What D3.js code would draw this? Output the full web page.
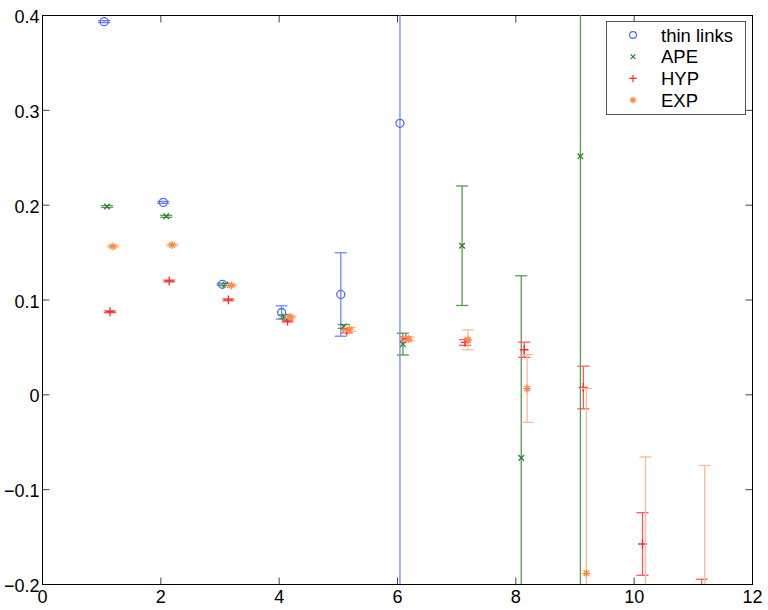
<!DOCTYPE html>
<html lang="en">
<head>
<meta charset="UTF-8">
<title>Error bars</title>
<script src="https://d3js.org/d3.v7.min.js"></script>
<style>
    body { margin: 0; background: #fff; overflow: hidden; }
</style>
</head>
<body>
<svg id="chart" width="768" height="610"></svg>
<script>
    // data
    const beta = [1, 2, 3, 4, 5, 6, 7, 8, 9, 10, 11];
    const seriesNames = ['thin links', 'APE', 'HYP', 'EXP'];
    const shifts = [0.05, 0.1, 0.15, 0.2];

    const thinVal = [0.393, 0.2024, 0.116, 0.0863, 0.1053, 0.2858];
    const thinErr = [0.001, 0.001, 0.001, 0.007, 0.044, 0.7];
    const apeVal = [0.198, 0.1877, 0.1156, 0.0818, 0.0716, 0.053, 0.1567, -0.067, 0.251];
    const apeErr = [0.001, 0.001, 0.001, 0.002, 0.002, 0.0115, 0.063, 0.192, 0.6];
    const hypVal = [0.0871, 0.1195, 0.0997, 0.0772, 0.0667, 0.0586, 0.0547, 0.047, 0.0072, -0.1578, -0.22];
    const hypErr = [0.001, 0.001, 0.001, 0.001, 0.002, 0.002, 0.003, 0.008, 0.0225, 0.033, 0.025];
    const expVal = [0.156, 0.1575, 0.1148, 0.0816, 0.0684, 0.0583, 0.0575, 0.0061, -0.1887, -0.25, -0.26];
    const expErr = [0.001, 0.001, 0.001, 0.001, 0.002, 0.002, 0.0105, 0.0357, 0.195, 0.184, 0.185];

    const xTicks = [0, 2, 4, 6, 8, 10, 12];
    const yTicks = [-0.2, -0.1, 0, 0.1, 0.2, 0.3, 0.4];

    const values = [thinVal, apeVal, hypVal, expVal];
    const errors = [thinErr, apeErr, hypErr, expErr];
    const markerColor = ['#4d6bff', '#2a7d2a', '#ff2a2a', '#ff8a4a'];
    const barColor = ['#6f88ff', '#4f9f4f', '#ff5a5a', '#ffbb96'];
    const symbols = ['circle', 'x', 'plus', 'star'];

    const font = '"Liberation Sans", Arial, sans-serif';
    const svg = d3.select('#chart').attr('font-family', font);
    const box = { left: 42, right: 752, top: 15, bottom: 584 };

    const x = d3.scaleLinear().domain([0, 12]).range([box.left, box.right]);
    const y = d3.scaleLinear().domain([-0.2, 0.4]).range([box.bottom, box.top]);

    svg.append('clipPath').attr('id', 'clip')
        .append('rect')
        .attr('x', box.left).attr('y', box.top)
        .attr('width', box.right - box.left).attr('height', box.bottom - box.top);

    // ticks point inward on all four sides, matlab style
    const tickLen = 7;
    const yFmt = d => d === 0 ? '0' : d3.format('.1f')(d).replace('-', '\u2212');
    svg.append('g')
        .attr('transform', `translate(0,${box.bottom + 0.5})`)
        .call(d3.axisBottom(x).tickValues(xTicks).tickSize(-tickLen).tickPadding(6).tickFormat(d3.format('d')))
        .call(g => g.selectAll('text').attr('font-size', 18).attr('font-family', font).attr('fill', '#000'));
    svg.append('g')
        .attr('transform', `translate(0,${box.top + 0.5})`)
        .call(d3.axisTop(x).tickValues(xTicks).tickSize(-tickLen).tickFormat(''));
    svg.append('g')
        .attr('transform', `translate(${box.left + 0.5},0)`)
        .call(d3.axisLeft(y).tickValues(yTicks).tickSize(-tickLen).tickPadding(3).tickFormat(yFmt))
        .call(g => g.selectAll('text').attr('font-size', 18).attr('font-family', font).attr('fill', '#000').attr('dy', '0.42em'));
    svg.append('g')
        .attr('transform', `translate(${box.right + 0.5},0)`)
        .call(d3.axisRight(y).tickValues(yTicks).tickSize(-tickLen).tickFormat(''));
    svg.selectAll('.domain').remove();
    svg.selectAll('.tick line').attr('stroke', '#444');

    svg.append('rect')
        .attr('x', box.left + 0.5).attr('y', box.top + 0.5)
        .attr('width', box.right - box.left).attr('height', box.bottom - box.top)
        .attr('fill', 'none').attr('stroke', '#000');

    function marker(sel, type, size) {
        let s = size;
        if (type === 'circle') {
            sel.append('circle').attr('r', s).attr('fill', 'none');
        } else if (type === 'x') {
            s = size * 0.7;
            sel.append('path').attr('d', `M${-s},${-s}L${s},${s}M${-s},${s}L${s},${-s}`);
        } else if (type === 'plus') {
            s = size * 1.1;
            sel.append('path').attr('d', `M${-s},0L${s},0M0,${-s}L0,${s}`);
        } else {
            const d = size * 0.7;
            sel.append('path').attr('d', `M${-size},0L${size},0M0,${-size}L0,${size}M${-d},${-d}L${d},${d}M${-d},${d}L${d},${-d}`);
        }
    }

    const plot = svg.append('g').attr('clip-path', 'url(#clip)');
    const capW = 6;

    seriesNames.forEach((name, i) => {
        const pts = values[i].map((v, j) => ({ x: beta[j] + shifts[i], v: v, e: errors[i][j] }));
        const g = plot.append('g').attr('class', 'series').attr('stroke-width', 1.3);

        const bars = g.selectAll('g.bar').data(pts).join('g').attr('class', 'bar')
            .attr('stroke', barColor[i]);
        bars.append('line')
            .attr('x1', d => x(d.x)).attr('x2', d => x(d.x))
            .attr('y1', d => y(d.v + d.e)).attr('y2', d => y(d.v - d.e));
        bars.append('line')
            .attr('x1', d => x(d.x) - capW).attr('x2', d => x(d.x) + capW)
            .attr('y1', d => y(d.v + d.e)).attr('y2', d => y(d.v + d.e));
        bars.append('line')
            .attr('x1', d => x(d.x) - capW).attr('x2', d => x(d.x) + capW)
            .attr('y1', d => y(d.v - d.e)).attr('y2', d => y(d.v - d.e));

        g.selectAll('g.mark').data(pts).join('g').attr('class', 'mark')
            .attr('stroke', markerColor[i])
            .attr('transform', d => `translate(${x(d.x)},${y(d.v)})`)
            .each(function () { marker(d3.select(this), symbols[i], 4); });
    });

    // legend
    const legend = svg.append('g').attr('class', 'legend');
    legend.append('rect')
        .attr('x', 606.5).attr('y', 21.5).attr('width', 139).attr('height', 93)
        .attr('fill', '#fff').attr('stroke', '#555');
    seriesNames.forEach((name, i) => {
        const row = legend.append('g').attr('transform', `translate(633,${35 + i * 21.7})`);
        const m = row.append('g').attr('stroke', markerColor[i]).attr('stroke-width', 1.2);
        marker(m, symbols[i], 3.4);
        row.append('text').attr('x', 28).attr('dy', '0.36em')
            .attr('font-size', 18.5).attr('fill', '#000').text(name);
    });
</script>
</body>
</html>
